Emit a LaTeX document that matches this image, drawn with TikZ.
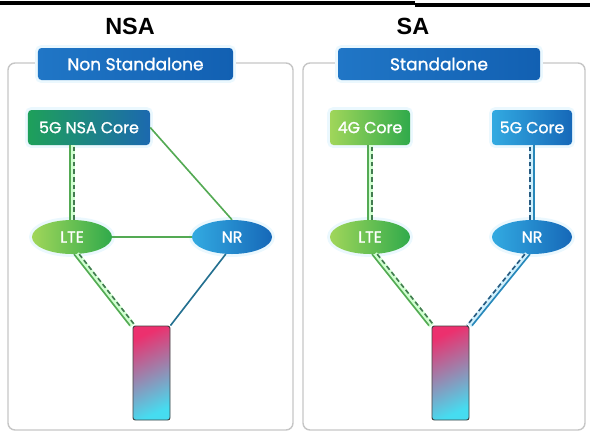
\documentclass[tikz,border=0pt]{standalone}
\usepackage{fontspec}
\setmainfont{Liberation Sans}
\newfontfamily\labelfont[FakeBold=1.3]{Poppins}
\usepackage{tikz}
\usetikzlibrary{shapes.geometric}

\definecolor{bannerA}{RGB}{32,118,198}
\definecolor{bannerB}{RGB}{18,96,178}
\definecolor{nsaA}{RGB}{30,160,90}
\definecolor{nsaB}{RGB}{28,105,175}
\definecolor{lteA}{RGB}{160,214,90}
\definecolor{lteB}{RGB}{48,170,75}
\definecolor{nrA}{RGB}{50,170,225}
\definecolor{nrB}{RGB}{22,104,184}
\definecolor{gline}{RGB}{84,170,84}
\definecolor{gdash}{RGB}{66,124,80}
\definecolor{bline}{RGB}{40,136,186}
\definecolor{bdash}{RGB}{40,90,128}
\definecolor{tline}{RGB}{36,112,144}
\definecolor{pinkA}{RGB}{236,48,110}
\definecolor{cyanB}{RGB}{70,220,240}

\begin{document}
\begin{tikzpicture}[x=0.03cm, y=-0.03cm,
  every node/.style={text=white, font=\labelfont\fontsize{13.5}{15}\selectfont},
  title/.style={text=black, font=\bfseries\fontsize{20}{23}\selectfont},
  panel/.style={draw=gray!45, line width=1.2pt, rounded corners=6pt},
  glow/.style={preaction={draw=cyan!8, line width=5pt}},
  banner/.style={rectangle, rounded corners=3pt, glow, minimum height=0.96cm,
    left color=bannerA, right color=bannerB, font=\labelfont\fontsize{14.5}{16}\selectfont},
  core/.style={rectangle, rounded corners=3pt, glow, minimum width=2.4cm, minimum height=1.05cm},
  cell/.style={ellipse, glow, inner sep=0pt, minimum width=2.4cm, minimum height=1.02cm},
  lte/.style={cell, left color=lteA, right color=lteB},
  nr/.style={cell, left color=nrA, right color=nrB},
  phone/.style={rectangle, rounded corners=2pt, draw=black!75, line width=0.8pt,
    minimum width=1.11cm, minimum height=2.82cm, top color=pinkA, middle color=white!85!violet,
    bottom color=cyanB, shading angle=25},
  band/.style={line width=5pt, draw=#1!18},
  link/.style={line width=1.4pt, draw=#1},
  dlink/.style={line width=1.4pt, draw=#1, dash pattern=on 4pt off 2.5pt},
]
  \useasboundingbox (0,0) rectangle (590,437);

  % rule across the top
  \draw[line width=2.6pt] (0,3) -- (415,3);
  \draw[line width=2.6pt] (415,5) -- (590,5);

  \node[title] (nsa) at (130,26) {NSA};
  \node[title] (sa)  at (413,26) {SA};

  % Non standalone
  \draw[panel] (8,63) rectangle (293,430);
  \node[banner, minimum width=5.85cm] (nsaban) at (135.5,64) {Non Standalone};
  \node[core, minimum width=3.66cm, left color=nsaA, right color=nsaB] (nsacore) at (89,127.5) {5G NSA Core};
  \node[lte] (lte1) at (72,237) {LTE};
  \node[nr]  (nr1)  at (232,237) {NR};
  \node[phone] (ue1) at (151.5,373) {};

  \draw[band=green] (lte1.north) -- (lte1.north |- nsacore.south);
  \draw[link=gline, transform canvas={xshift=-1.8pt}] (lte1.north) -- (lte1.north |- nsacore.south);
  \draw[dlink=gdash, transform canvas={xshift=1.8pt}] (lte1.north) -- (lte1.north |- nsacore.south);
  \draw[link=gline] (nsacore.east) -- (nr1.north);
  \draw[link=gline] (lte1) -- (nr1);
  \draw[band=green] (lte1.-75) -- (ue1.north west);
  \draw[link=gline, transform canvas={xshift=-2.2pt}] (lte1.-75) -- (ue1.north west);
  \draw[dlink=gdash, transform canvas={xshift=2.2pt}] (lte1.-75) -- (ue1.north west);
  \draw[link=tline] (nr1.-110) -- (ue1.north east);

  % Standalone
  \draw[panel] (303,63) rectangle (585,430);
  \node[banner, minimum width=6.06cm] (saban) at (439,64) {Standalone};
  \node[core, left color=lteA, right color=lteB] (core4g) at (370,127.5) {4G Core};
  \node[core, left color=nrA, right color=nrB] (core5g) at (532,127.5) {5G Core};
  \node[lte] (lte2) at (370,237) {LTE};
  \node[nr]  (nr2)  at (532,237) {NR};
  \node[phone] (ue2) at (450.5,373) {};

  \draw[band=green] (lte2) -- (core4g);
  \draw[link=gline, transform canvas={xshift=-1.8pt}] (lte2) -- (core4g);
  \draw[dlink=gdash, transform canvas={xshift=1.8pt}] (lte2) -- (core4g);
  \draw[band=cyan] (nr2) -- (core5g);
  \draw[dlink=bdash, transform canvas={xshift=-1.8pt}] (nr2) -- (core5g);
  \draw[link=bline, transform canvas={xshift=1.8pt}] (nr2) -- (core5g);
  \draw[band=green] (lte2.-75) -- (ue2.north west);
  \draw[link=gline, transform canvas={xshift=-2.2pt}] (lte2.-75) -- (ue2.north west);
  \draw[dlink=gdash, transform canvas={xshift=2.2pt}] (lte2.-75) -- (ue2.north west);
  \draw[band=cyan] (nr2.-105) -- (ue2.north east);
  \draw[dlink=bdash, transform canvas={xshift=-2.2pt}] (nr2.-105) -- (ue2.north east);
  \draw[link=bline, transform canvas={xshift=2.2pt}] (nr2.-105) -- (ue2.north east);
\end{tikzpicture}
\end{document}
